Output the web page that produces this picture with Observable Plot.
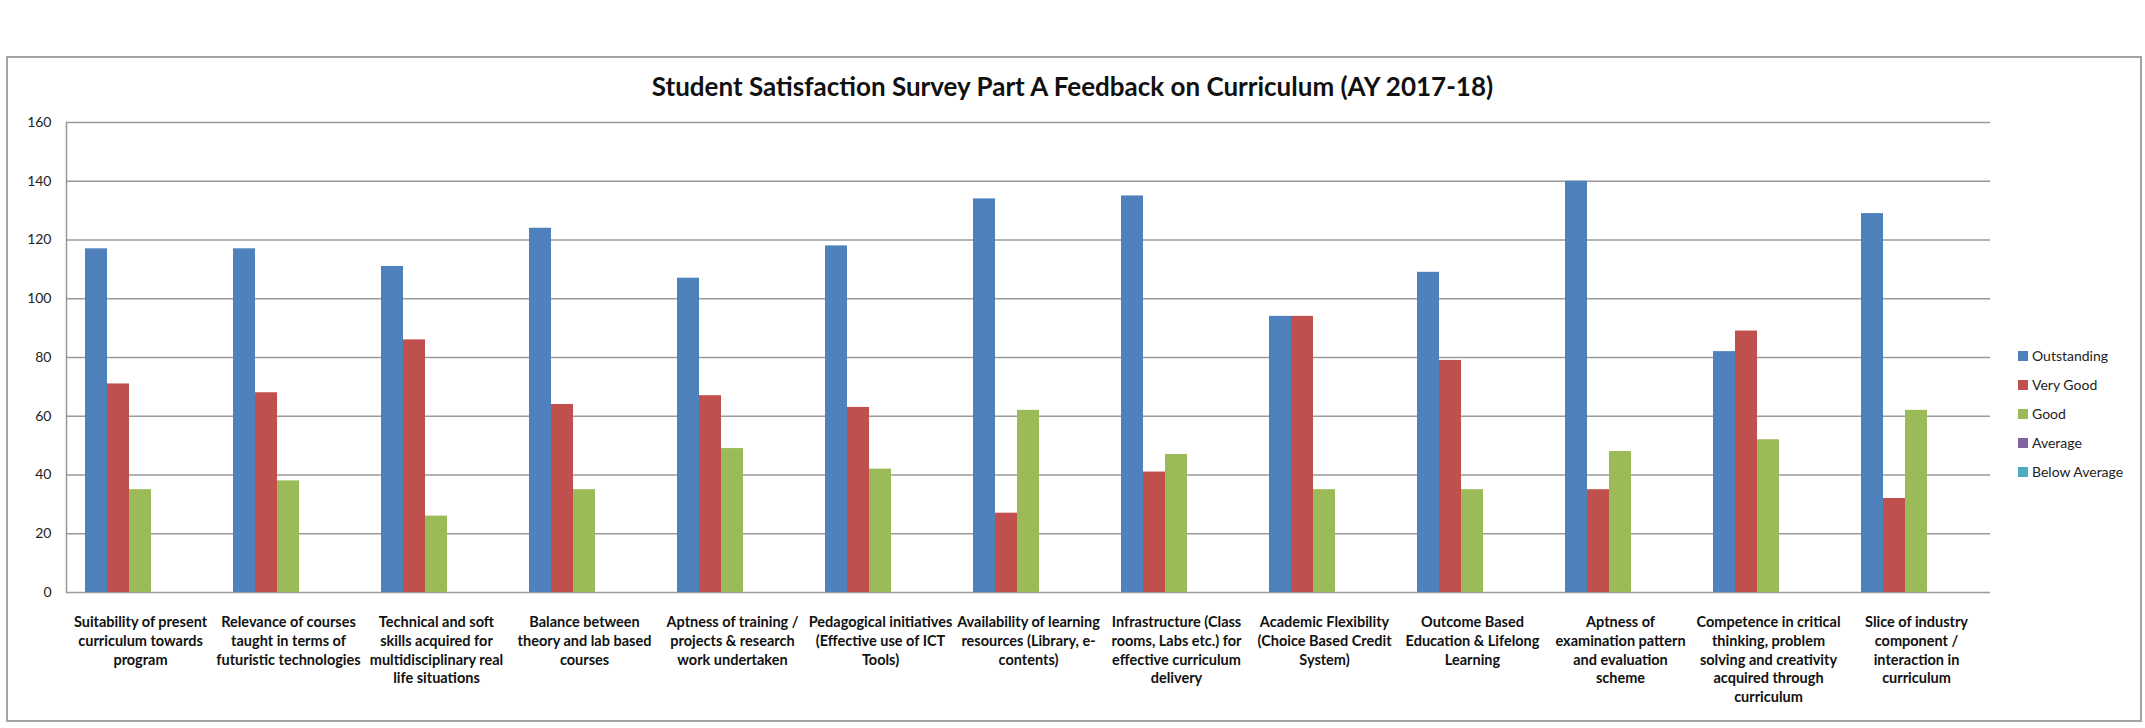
<!DOCTYPE html>
<html>
<head>
<meta charset="utf-8">
<script src="https://cdn.jsdelivr.net/npm/d3@7"></script>
<script src="https://cdn.jsdelivr.net/npm/@observablehq/plot@0.6"></script>
<style>
  html, body { margin: 0; padding: 0; background: #fff; }
  #wrap { position: relative; width: 2145px; height: 728px; overflow: hidden; font-family: Lato, "Open Sans", sans-serif; }
  #frame { position: absolute; left: 6px; top: 56px; width: 2136px; height: 666px; box-sizing: border-box; border: 2px solid #a3a3a3; pointer-events: none; }
  #title { position: absolute; left: 0; top: 71px; width: 2145px; text-align: center; font-size: 26px; line-height: 30px; font-weight: bold; color: #111; }
  #chart { position: absolute; left: 0; top: 0; }
  #legend { position: absolute; left: 2018px; top: 341px; }
  .row { height: 29px; display: flex; align-items: center; font-size: 14px; color: #222; white-space: nowrap; }
  .sw { width: 10px; height: 10px; margin-right: 4px; flex: none; }
</style>
</head>
<body>
<div id="wrap">
  <div id="chart"></div>
  <div id="title"></div>
  <div id="legend"></div>
  <div id="frame"></div>
</div>
<script>
const titleText = "Student Satisfaction Survey Part A Feedback on Curriculum (AY 2017-18)";

const categories = [
  "Suitability of present\ncurriculum towards\nprogram",
  "Relevance of courses\ntaught in terms of\nfuturistic technologies",
  "Technical and soft\nskills acquired for\nmultidisciplinary real\nlife situations",
  "Balance between\ntheory and lab based\ncourses",
  "Aptness of training /\nprojects & research\nwork undertaken",
  "Pedagogical initiatives\n(Effective use of ICT\nTools)",
  "Availability of learning\nresources (Library, e-\ncontents)",
  "Infrastructure (Class\nrooms, Labs etc.) for\neffective curriculum\ndelivery",
  "Academic Flexibility\n(Choice Based Credit\nSystem)",
  "Outcome Based\nEducation & Lifelong\nLearning",
  "Aptness of\nexamination pattern\nand evaluation\nscheme",
  "Competence in critical\nthinking, problem\nsolving and creativity\nacquired through\ncurriculum",
  "Slice of industry\ncomponent /\ninteraction in\ncurriculum"
];

const outstanding  = [117, 117, 111, 124, 107, 118, 134, 135, 94, 109, 140, 82, 129];
const veryGood     = [71, 68, 86, 64, 67, 63, 27, 41, 94, 79, 35, 89, 32];
const good         = [35, 38, 26, 35, 49, 42, 62, 47, 35, 35, 48, 52, 62];
const average      = [0, 0, 0, 0, 0, 0, 0, 0, 0, 0, 0, 0, 0];
const belowAverage = [0, 0, 0, 0, 0, 0, 0, 0, 0, 0, 0, 0, 0];

const seriesNames  = ["Outstanding", "Very Good", "Good", "Average", "Below Average"];
const seriesColors = ["#4F81BD", "#C0504D", "#9BBB59", "#8064A2", "#4BACC6"];
const yTicks = [0, 20, 40, 60, 80, 100, 120, 140, 160];

const seriesValues = [outstanding, veryGood, good, average, belowAverage];
const data = categories.flatMap((c, i) =>
  seriesNames.map((s, j) => ({category: c, series: s, value: seriesValues[j][i]}))
);

document.getElementById("title").textContent = titleText;

const chart = Plot.plot({
  width: 2145,
  height: 728,
  marginLeft: 61,
  marginRight: 151,
  marginTop: 122,
  marginBottom: 136,
  style: {fontFamily: "Lato, 'Open Sans', sans-serif", background: "transparent", overflow: "visible"},
  fx: {domain: categories, paddingInner: 0, paddingOuter: 0, axis: null, label: null},
  x: {domain: seriesNames, paddingInner: 0, paddingOuter: 0.75, axis: null},
  y: {domain: [0, 160], axis: null},
  color: {domain: seriesNames, range: seriesColors},
  marks: [
    Plot.gridY(yTicks, {stroke: "#9a9a9a", strokeOpacity: 1, strokeWidth: 1.5}),
    Plot.frame({anchor: "left", stroke: "#9a9a9a", strokeOpacity: 1, strokeWidth: 1.5, facetAnchor: "left"}),
    Plot.barY(data, {fx: "category", x: "series", y: "value", fill: "series"}),
    Plot.axisY(yTicks, {tickSize: 0, tickPadding: 15, fontSize: 14, fill: "#222", label: null, tickFormat: d => String(d)}),
    Plot.axisFx({anchor: "bottom", tickSize: 0, tickPadding: 21, fontSize: 14.5, fontWeight: "bold", lineHeight: 1.3, fill: "#111", label: null})
  ]
});
document.getElementById("chart").appendChild(chart);

const legend = document.getElementById("legend");
seriesNames.forEach((s, i) => {
  const row = document.createElement("div");
  row.className = "row";
  const sw = document.createElement("span");
  sw.className = "sw";
  sw.style.background = seriesColors[i];
  const t = document.createElement("span");
  t.textContent = s;
  row.appendChild(sw);
  row.appendChild(t);
  legend.appendChild(row);
});
</script>
</body>
</html>
